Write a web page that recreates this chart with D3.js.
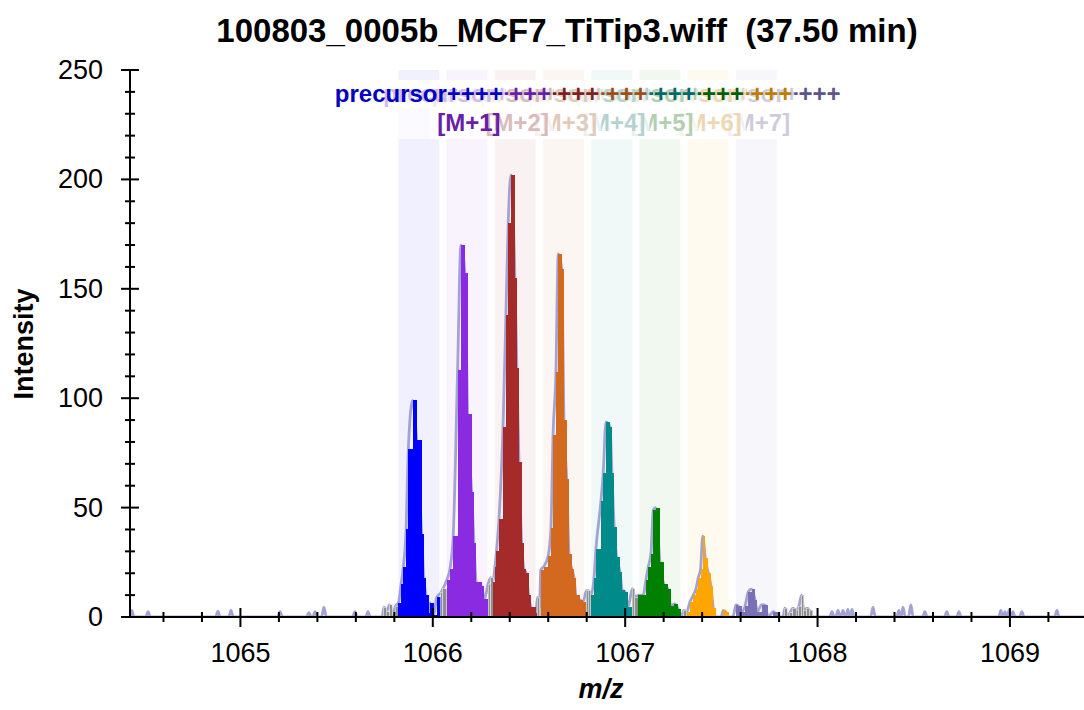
<!DOCTYPE html>
<html><head><meta charset="utf-8">
<script src="https://cdn.jsdelivr.net/npm/d3@7"></script>
<style>
html,body{margin:0;padding:0;background:#fff;}
svg text{font-family:"Liberation Sans",Arial,Helvetica,sans-serif;}
</style></head><body>
<svg id="chart" width="1084" height="710"></svg>
<script>
// ---------- text ----------
const titleText = "100803_0005b_MCF7_TiTip3.wiff  (37.50 min)";
const xLabel = "m/z";
const yLabel = "Intensity";
const precursorLabel = "precursor++++";
const isotopeNames = ["", "[M+1]", "[M+2]", "[M+3]", "[M+4]", "[M+5]", "[M+6]", "[M+7]"];

// ---------- axes ----------
const xDomain = [1064.426, 1069.385];
const yDomain = [0, 250];
const xMajorTicks = [1065, 1066, 1067, 1068, 1069];
const yMajorTicks = [0, 50, 100, 150, 200, 250];
const xMinorStep = 0.2;
const yMinorStep = 10;

// ---------- isotope extraction windows ----------
const isotopeColors = ["#0000ff", "#8a2be2", "#a52a2a", "#d2691e", "#008b8b", "#008000", "#ffa500", "#7a70b8"];
const windowLo = [1065.821, 1066.071, 1066.322, 1066.573, 1066.824, 1067.074, 1067.325, 1067.576];
const windowHi = [1066.034, 1066.284, 1066.535, 1066.786, 1067.037, 1067.287, 1067.538, 1067.789];

// ---------- spectrum (m/z, intensity) ----------
const preNoise = [[1065.736,0],[1065.746,4.5],[1065.759,2.5],[1065.775,5.5],[1065.790,1.5],[1065.806,5]];
const peakM0 = [[1065.821,6.5],[1065.835,15],[1065.847,23],[1065.861,40],[1065.873,77],[1065.895,99],[1065.916,81],[1065.942,38],[1065.953,18],[1065.965,10],[1065.979,2],[1065.985,6.4],[1066.006,1],[1066.020,9],[1066.041,11],[1066.053,13]];
const peakM1 = [[1066.073,17],[1066.089,22],[1066.106,37],[1066.129,113],[1066.146,170],[1066.167,157],[1066.181,93],[1066.202,57],[1066.214,34],[1066.226,16],[1066.254,14],[1066.268,8],[1066.287,15],[1066.302,18],[1066.313,16]];
const peakM2 = [[1066.323,23],[1066.331,30],[1066.344,44.6],[1066.365,87],[1066.380,138],[1066.392,180],[1066.406,202],[1066.427,155],[1066.437,114],[1066.448,71],[1066.462,34],[1066.474,22],[1066.486,20],[1066.498,10],[1066.510,4.7],[1066.536,2],[1066.544,9],[1066.554,3]];
const peakM3 = [[1066.561,21.5],[1066.576,23],[1066.600,28],[1066.614,40.5],[1066.625,83],[1066.640,112],[1066.652,166],[1066.670,159],[1066.682,90],[1066.696,63],[1066.708,29],[1066.722,22],[1066.734,18],[1066.744,10],[1066.765,7.8],[1066.782,7],[1066.798,12],[1066.809,12]];
const peakM4 = [[1066.822,10],[1066.838,18],[1066.848,31],[1066.874,53],[1066.886,66],[1066.900,89],[1066.921,87],[1066.931,66],[1066.943,41],[1066.955,27.6],[1066.973,20.7],[1066.985,12.3],[1066.999,11.6],[1067.016,4.7],[1067.037,13],[1067.051,9]];
const peakM5 = [[1067.068,10],[1067.094,10],[1067.108,17],[1067.120,23],[1067.134,29],[1067.146,49],[1067.158,50],[1067.181,25],[1067.202,15],[1067.221,13],[1067.238,5],[1067.255,6],[1067.276,3.7],[1067.292,0],[1067.305,3]];
const peakM6 = [[1067.320,2.4],[1067.337,7],[1067.354,10],[1067.368,13],[1067.380,18],[1067.392,22],[1067.403,37],[1067.416,27],[1067.432,20],[1067.446,14],[1067.458,4],[1067.470,0],[1067.498,0],[1067.510,3],[1067.522,2.4],[1067.539,0]];
const peakM7 = [[1067.560,0],[1067.576,5.5],[1067.588,5],[1067.605,2.4],[1067.623,5],[1067.640,11.6],[1067.657,12.7],[1067.675,7.8],[1067.686,2.4],[1067.709,5.5],[1067.726,5.5],[1067.744,0],[1067.770,2.4],[1067.796,0]];
const tailNoise = [[1067.820,0],[1067.830,4],[1067.843,0],[1067.856,2],[1067.872,4],[1067.888,3],[1067.903,5],[1067.917,10],[1067.929,3],[1067.945,4],[1067.960,3],[1067.976,0]];
// isolated baseline noise spikes
const noiseMz = [1064.435,1064.520,1064.883,1064.951,1065.206,1065.356,1065.388,1065.434,1065.595,1065.663,
                 1068.075,1068.106,1068.132,1068.158,1068.179,1068.288,1068.423,1068.444,1068.485,1068.558,1068.672,1068.735,1068.953,1068.974,1068.995,1069.015,1069.062,1069.244];
const noiseInt = [3,2.5,2.7,3,2.5,2,2.5,4.5,2.5,2.5,
                  2.5,3,3,3.5,3.5,4.5,3,4.5,5.5,2.5,2.5,2.5,3,2.5,3,2.5,2.5,3];

// ---------- drawing ----------
const svg = d3.select("#chart");
const x = d3.scaleLinear().domain(xDomain).range([130, 1084]);
const y = d3.scaleLinear().domain(yDomain).range([617, 70]);

svg.append("defs").append("clipPath").attr("id","plotclip")
  .append("rect").attr("x",130).attr("y",0).attr("width",954).attr("height",617);

// window bands
svg.append("g").selectAll("rect").data(windowLo).join("rect")
  .attr("x", d => x(d))
  .attr("width", (d,i) => x(windowHi[i]) - x(d))
  .attr("y", y(yDomain[1]))
  .attr("height", y(0) - y(yDomain[1]))
  .attr("fill", (d,i) => isotopeColors[i])
  .attr("fill-opacity", 0.06);

const dense = [].concat(preNoise, peakM0, peakM1, peakM2, peakM3, peakM4, peakM5, peakM6, peakM7, tailNoise);
const bumps = [];
noiseMz.forEach((m,i) => { bumps.push([m-0.012,0],[m,noiseInt[i]],[m+0.012,0]); });
const all = [[xDomain[0],0]].concat(bumps, dense, [[xDomain[1],0]]).sort((a,b)=>a[0]-b[0]);

const plot = svg.append("g").attr("clip-path","url(#plotclip)");

// profile line (under the bars)
plot.append("path")
  .attr("d", d3.line().x(d=>x(d[0])).y(d=>y(d[1])).curve(d3.curveMonotoneX)(all))
  .attr("fill","none").attr("stroke","#a2a2d4").attr("stroke-width",2.8)
  .attr("stroke-linejoin","round");

// bars
const bars = [];
for (let i=0;i<dense.length-1;i++){
  const m0 = dense[i][0], m1 = dense[i+1][0], v = dense[i][1];
  if (v <= 0) continue;
  const mid = (m0+m1)/2;
  const k = windowLo.findIndex((lo,j) => mid >= lo-0.006 && mid <= windowHi[j]+0.006);
  bars.push({m0, m1, v, k});
}
plot.append("g").selectAll("rect").data(bars).join("rect")
  .attr("x", d => x(d.m0))
  .attr("width", d => x(d.m1)-x(d.m0))
  .attr("y", d => y(d.v))
  .attr("height", d => y(0)-y(d.v))
  .attr("fill", d => d.k>=0 ? isotopeColors[d.k] : "#8e8e8e")
  .attr("stroke", d => d.k>=0 ? "none" : "#dcdcdc")
  .attr("stroke-width", 0.7)
  .attr("shape-rendering","crispEdges");

// axes
const ax = svg.append("g").attr("stroke","#000");
ax.append("line").attr("x1",130).attr("x2",1084).attr("y1",y(0)).attr("y2",y(0)).attr("stroke-width",2);
ax.append("line").attr("x1",130).attr("x2",130).attr("y1",y(yDomain[1])).attr("y2",y(0)).attr("stroke-width",2);
const xMinor = d3.range(Math.ceil(xDomain[0]/xMinorStep)*xMinorStep, xDomain[1], xMinorStep)
  .filter(v => !xMajorTicks.some(t => Math.abs(t-v)<1e-6));
const yMinor = d3.range(yDomain[0], yDomain[1], yMinorStep).filter(v => v % 50 !== 0);
ax.selectAll(".xmin").data(xMinor).join("line")
  .attr("x1",d=>x(d)).attr("x2",d=>x(d)).attr("y1",y(0)-5).attr("y2",y(0)+5).attr("stroke-width",2);
ax.selectAll(".xmaj").data(xMajorTicks).join("line")
  .attr("x1",d=>x(d)).attr("x2",d=>x(d)).attr("y1",y(0)-9).attr("y2",y(0)+10).attr("stroke-width",2);
ax.selectAll(".ymin").data(yMinor).join("line")
  .attr("y1",d=>y(d)).attr("y2",d=>y(d)).attr("x1",125).attr("x2",135).attr("stroke-width",2);
ax.selectAll(".ymaj").data(yMajorTicks).join("line")
  .attr("y1",d=>y(d)).attr("y2",d=>y(d)).attr("x1",121).attr("x2",139).attr("stroke-width",2);

svg.append("g").selectAll("text").data(xMajorTicks).join("text")
  .attr("x", d=>x(d)).attr("y", 662).attr("text-anchor","middle")
  .attr("font-size",27).text(d=>d);
svg.append("g").selectAll("text").data(yMajorTicks).join("text")
  .attr("x", 103).attr("y", d=>y(d)+9).attr("text-anchor","end")
  .attr("font-size",27).text(d=>d);

// axis titles
svg.append("text").attr("x",567).attr("y",42).attr("text-anchor","middle")
  .attr("font-size",33).attr("font-weight","bold").style("white-space","pre").text(titleText);
svg.append("text").attr("transform","translate(33,344) rotate(-90)").attr("text-anchor","middle")
  .attr("font-size",27).attr("font-weight","bold").text(yLabel);
svg.append("text").attr("x",601).attr("y",698).attr("text-anchor","middle")
  .attr("font-size",27).attr("font-weight","bold").attr("font-style","italic").text(xLabel);

// isotope labels (drawn last-first so earlier ones sit on top)
const lab = svg.append("g");
for (let k = isotopeNames.length-1; k >= 0; k--){
  const c = x((windowLo[k]+windowHi[k])/2);
  const col = d3.color(isotopeColors[k]).darker(0.8).formatHex();
  const g = lab.append("g");
  const bg = g.append("rect");
  const t1 = g.append("text").attr("x",c).attr("y",102).attr("text-anchor","middle")
    .attr("font-size",24).attr("font-weight","bold").attr("fill",col).text(precursorLabel);
  if (isotopeNames[k]) {
    g.append("text").attr("x",c+2).attr("y",131).attr("text-anchor","middle")
      .attr("font-size",24).attr("font-weight","bold").attr("fill",col).text(isotopeNames[k]);
  }
  const w = t1.node().getComputedTextLength();
  bg.attr("x", c-w/2-2).attr("width", w+4).attr("y",80).attr("height", isotopeNames[k] ? 59 : 28)
    .attr("fill","#fff").attr("fill-opacity",0.7);
}
</script>
</body></html>
